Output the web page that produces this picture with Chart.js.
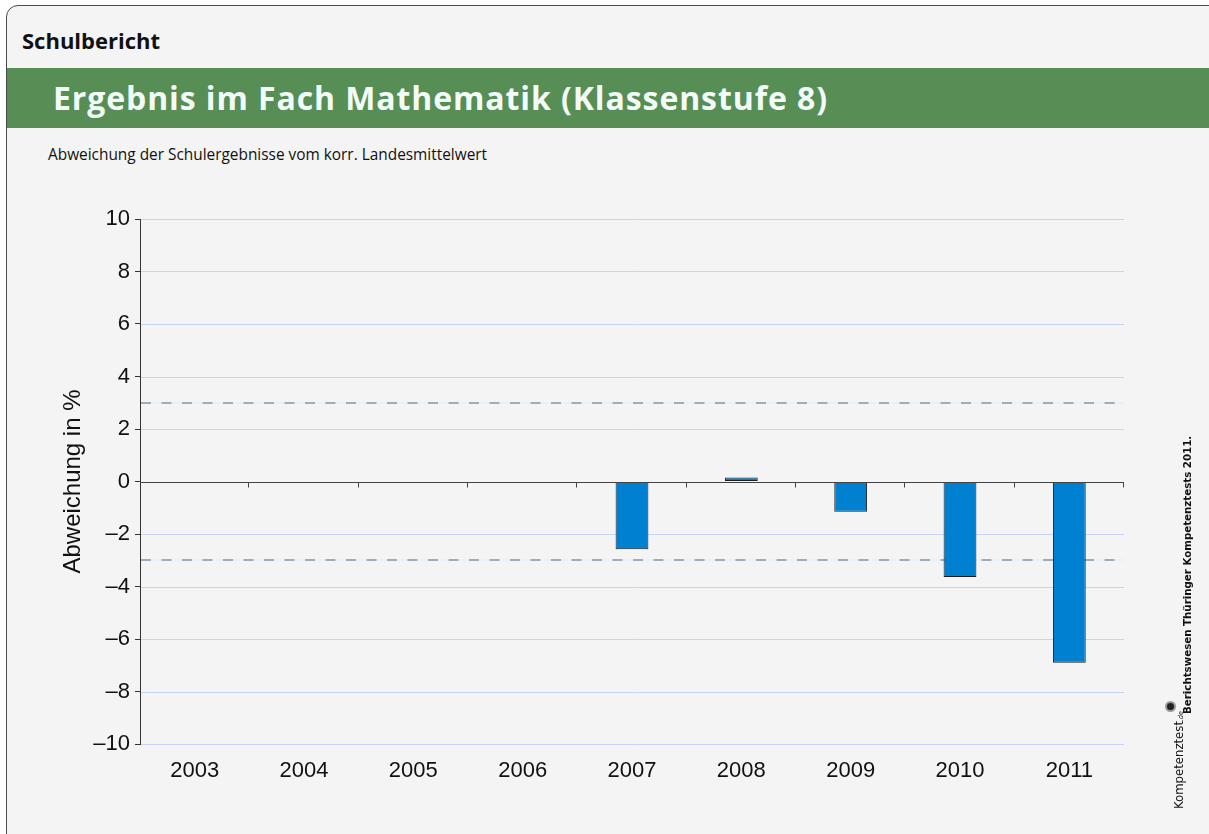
<!DOCTYPE html>
<html>
<head>
<meta charset="utf-8">
<script src="https://cdn.jsdelivr.net/npm/chart.js@4.4.1/dist/chart.umd.min.js"></script>
<style>
  body { margin: 0; background: #ffffff; width: 1209px; height: 834px; overflow: hidden; position: relative; }
  #rahmen { position: absolute; left: 6px; top: 5px; width: 1230px; height: 860px; background: #f4f4f4;
            border: 1.5px solid #4a4a4a; border-radius: 12px; box-sizing: border-box; }
  #kopf { position: absolute; left: 22px; top: 25px; font: bold 22px "Open Sans", sans-serif; color: #111; }
  #band { position: absolute; left: 7px; top: 68px; width: 1202px; height: 60px; background: #578e56; }
  #titel { position: absolute; left: 53px; top: 76px; font: bold 32px "Open Sans", sans-serif; color: #f3fbf8; letter-spacing: 0.9px; }
  #untertitel { position: absolute; left: 48px; top: 144px; font: 15.4px "Open Sans", sans-serif; color: #111; }
  #leinwand { position: absolute; left: 0; top: 190px; width: 1209px; height: 600px; }
  .senkrecht { position: absolute; transform-origin: left top; transform: rotate(-90deg); white-space: nowrap; color: #111; }
  #quelle { left: 1181px; top: 714px; font: bold 10.25px "DejaVu Sans", sans-serif; }
  #logo { left: 1165px; top: 809px; font: 13px "DejaVu Sans Condensed", "DejaVu Sans", sans-serif; line-height: 15px; }
  #logo small { font-size: 7px; font-style: italic; }
  #logo b { display: inline-block; width: 11px; height: 11px; border-radius: 50%; background: #222; border: 2px solid #999; box-sizing: border-box; margin-left: -1px; vertical-align: 7px; }
</style>
</head>
<body>
<div id="rahmen"></div>
<div id="kopf">Schulbericht</div>
<div id="band"></div>
<div id="titel">Ergebnis im Fach Mathematik (Klassenstufe 8)</div>
<div id="untertitel">Abweichung der Schulergebnisse vom korr. Landesmittelwert</div>
<div id="leinwand"><canvas id="grafik"></canvas></div>
<div class="senkrecht" id="quelle">Berichtswesen Thüringer Kompetenztests 2011.</div>
<div class="senkrecht" id="logo">Kompetenztest<small>.de</small><b></b></div>
<script>
// Daten
var jahre = ['2003', '2004', '2005', '2006', '2007', '2008', '2009', '2010', '2011'];
var abweichung = [null, null, null, null, -2.58, 0.15, -1.15, -3.64, -6.9];
var yMin = -10;
var yMax = 10;
var yStep = 2;
var grenzen = [3, -3];

var hilfslinien = {
    id: 'hilfslinien',
    beforeDatasetsDraw: function (chart) {
        var ctx = chart.ctx, area = chart.chartArea, y = chart.scales.y;
        ctx.save();
        // hellblaue Gitterlinien (ohne Null)
        ctx.lineWidth = 1;
        ctx.strokeStyle = '#c3d6f6';
        ctx.beginPath();
        y.ticks.forEach(function (t) {
            if (t.value === 0) return;
            var gy = Math.round(y.getPixelForValue(t.value)) + 0.5;
            ctx.moveTo(area.left + 1, gy);
            ctx.lineTo(area.right, gy);
        });
        ctx.stroke();
        grenzen.forEach(function (g) {
            var py = Math.round(y.getPixelForValue(g));
            ctx.lineWidth = 2;
            ctx.setLineDash([]);
            ctx.strokeStyle = '#e4f3f9';
            ctx.beginPath();
            ctx.moveTo(area.left + 1, py);
            ctx.lineTo(area.right, py);
            ctx.stroke();
            ctx.strokeStyle = '#a0abbd';
            ctx.setLineDash([10, 10.5]);
            ctx.beginPath();
            ctx.moveTo(area.left + 1, py);
            ctx.lineTo(area.right, py);
            ctx.stroke();
        });
        ctx.restore();
    },
    afterDatasetsDraw: function (chart) {
        // Nulllinie mit Strichen zwischen den Jahren
        var ctx = chart.ctx, area = chart.chartArea, x = chart.scales.x, y = chart.scales.y;
        var py = Math.round(y.getPixelForValue(0)) + 0.5;
        var halb = (x.getPixelForValue(1) - x.getPixelForValue(0)) / 2;
        ctx.save();
        ctx.strokeStyle = '#444';
        ctx.lineWidth = 1;
        ctx.beginPath();
        ctx.moveTo(area.left, py);
        ctx.lineTo(area.right, py);
        for (var i = 0; i < jahre.length; i++) {
            var px = Math.round(x.getPixelForValue(i) + halb) - 0.5;
            ctx.moveTo(px, py);
            ctx.lineTo(px, py + 5);
        }
        ctx.stroke();
        ctx.restore();
    }
};

var ctx = document.getElementById('grafik');
var myChart = new Chart(ctx, {
    type: 'bar',
    data: {
        labels: jahre,
        datasets: [{
            data: abweichung,
            backgroundColor: '#0080d0',
            borderColor: '#1e1e1e',
            borderWidth: 1,
            borderSkipped: false,
            barPercentage: 0.3,
            categoryPercentage: 1
        }]
    },
    options: {
        responsive: true,
        maintainAspectRatio: false,
        animation: false,
        layout: { padding: { top: 29, right: 85, left: 0, bottom: 0 } },
        plugins: { legend: { display: false }, tooltip: { enabled: false } },
        scales: {
            x: {
                grid: { display: false, drawTicks: false },
                border: { display: false },
                ticks: { color: '#111', padding: 14, font: { family: 'Liberation Sans', size: 22 } },
                afterFit: function (scale) { scale.height = 46; }
            },
            y: {
                min: yMin,
                max: yMax,
                ticks: {
                    stepSize: yStep,
                    color: '#111',
                    padding: 5,
                    font: { family: 'Liberation Sans', size: 22 },
                    callback: function (v) { return v < 0 ? '\u2013' + Math.abs(v) : String(v); }
                },
                grid: {
                    drawOnChartArea: false,
                    tickColor: '#333',
                    tickLength: 5
                },
                border: { display: true, color: '#333', width: 1 },
                title: {
                    display: true,
                    text: 'Abweichung in %',
                    color: '#111',
                    font: { family: 'Liberation Sans', size: 24 },
                    padding: { top: 59, bottom: 0 }
                },
                afterFit: function (scale) { scale.width = 140; }
            }
        }
    },
    plugins: [hilfslinien]
});
</script>
</body>
</html>
